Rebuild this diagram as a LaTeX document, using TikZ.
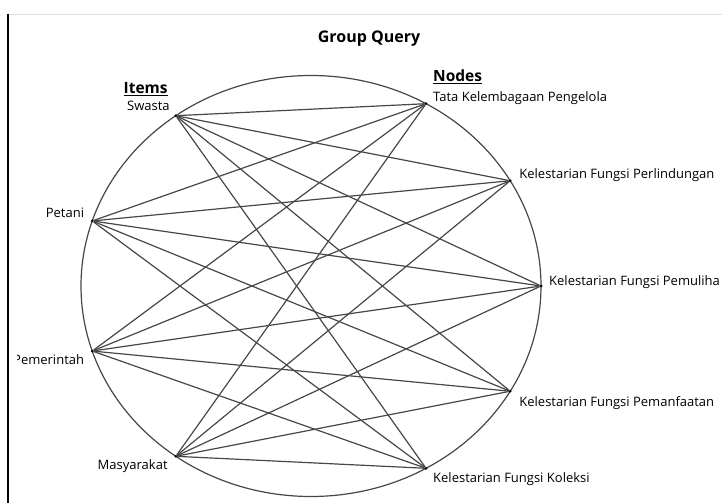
\documentclass[tikz,border=0pt]{standalone}
\usepackage{fontspec}
\setmainfont{Open Sans}
\usetikzlibrary{positioning}

\tikzset{
  label/.style={inner sep=0pt, font=\fontsize{13}{15}\selectfont},
  head/.style={inner sep=0pt, font=\bfseries\fontsize{15.5}{18}\selectfont},
  dot/.style={circle, fill=black, inner sep=0pt, minimum size=3pt},
  link/.style={draw=black!72, line width=1.2pt},
}

\begin{document}
\begin{tikzpicture}[x=1pt,y=1pt]
\useasboundingbox (0,0) rectangle (722,503);

% frame
\draw[black!12] (8,489) -- (722,489);
\draw[line width=1.4pt] (8,489) -- (8,0);

\node[head, font=\bfseries\fontsize{16}{18}\selectfont, anchor=base] (title) at (369,460.3) {Group Query};

\begin{scope}[shift={(311,217)}]
  \draw[link] (0,0) ellipse [x radius=230pt, y radius=210.5pt];
  % items
  \node[dot] (sw) at (126:230pt and 210.5pt) {};
  \node[dot] (pt) at (162:230pt and 210.5pt) {};
  \node[dot] (pm) at (198:230pt and 210.5pt) {};
  \node[dot] (ms) at (234:230pt and 210.5pt) {};
  % nodes
  \node[dot] (tk) at (60:230pt and 210.5pt) {};
  \node[dot] (fp) at (30:230pt and 210.5pt) {};
  \node[dot] (fm) at (0:230pt and 210.5pt) {};
  \node[dot] (fa) at (-30:230pt and 210.5pt) {};
  \node[dot] (fk) at (-60:230pt and 210.5pt) {};
\end{scope}

\node[label, anchor=base east] (swl) at ([shift={(-6,5.3)}]sw) {Swasta};
\node[label, anchor=base east] (ptl) at ([shift={(-8,3.3)}]pt) {Petani};
\begin{scope}
  \clip (17,0) rectangle (722,503);
  \node[label, anchor=base east] (pml) at ([shift={(-8,-13.7)}]pm) {Pemerintah};
\end{scope}
\node[label, anchor=base east] (msl) at ([shift={(-8,-13.7)}]ms) {Masyarakat};

\node[label, anchor=base west] (tkl) at ([shift={(7,2.3)}]tk) {Tata Kelembagaan Pengelola};
\node[label, anchor=base west] (fpl) at ([shift={(9,2.3)}]fp) {Kelestarian Fungsi Perlindungan};
\node[label, anchor=base west] (fml) at ([shift={(8,0.3)}]fm) {Kelestarian Fungsi Pemuliha};
\node[label, anchor=base west] (fal) at ([shift={(9,-15.7)}]fa) {Kelestarian Fungsi Pemanfaatan};
\node[label, anchor=base west] (fkl) at ([shift={(7,-14.7)}]fk) {Kelestarian Fungsi Koleksi};

\node[head, anchor=base east] (items) at ([shift={(-2,17.2)}]swl.base east) {\underline{Items}};
\node[head, anchor=base west] (nodes) at ([yshift=20.2]tkl.base west) {\underline{Nodes}};

% links
\foreach \i in {sw,pt,pm,ms}
  \foreach \j in {tk,fp,fm,fa,fk}
    \draw[link] (\i) -- (\j);

\end{tikzpicture}
\end{document}
